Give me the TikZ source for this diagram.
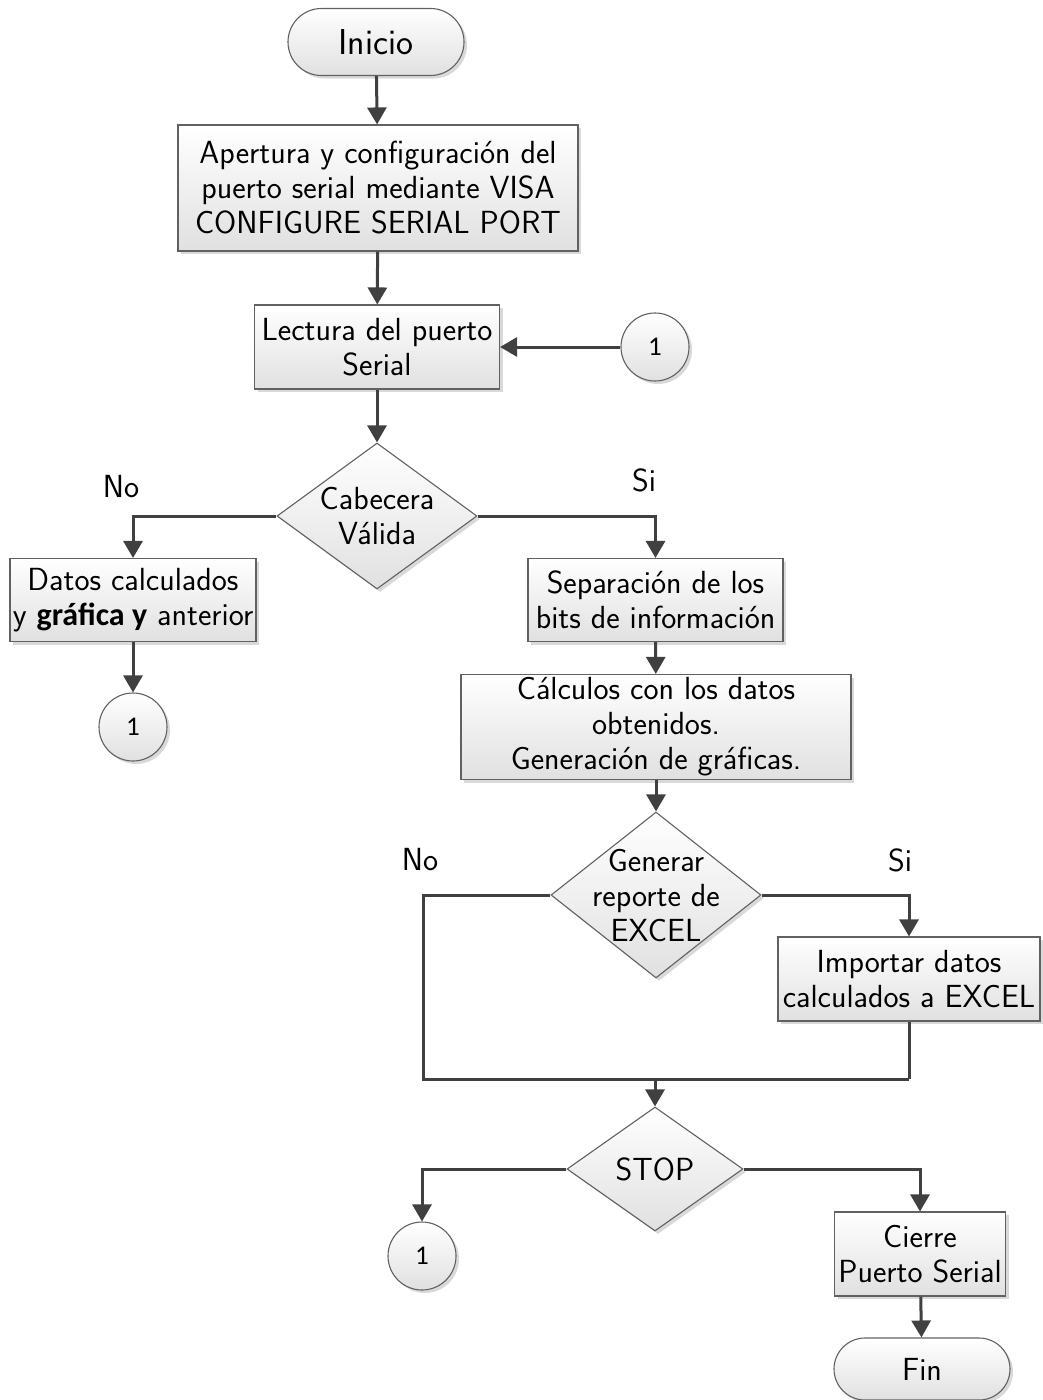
\documentclass[tikz,border=0pt]{standalone}
\usepackage{fontspec}
\newfontfamily\calib{Carlito}
\usetikzlibrary{shapes.geometric,shapes.misc,arrows.meta,shadows}

\tikzset{
  base/.style={draw=black!62, line width=1.1pt, top color=white, bottom color=black!12,
    drop shadow={shadow xshift=3pt, shadow yshift=-3pt, opacity=0.15, fill=black},
    font=\sffamily\fontsize{32}{35}\selectfont, align=center, inner sep=1pt},
  proc/.style={base, rectangle},
  term/.style={base, rounded rectangle},
  dec/.style={base, diamond, inner sep=0pt},
  conn/.style={base, circle, inner sep=0pt, minimum size=68pt,
    font=\calib\fontsize{27}{27}\selectfont},
  dtext/.style={font=\sffamily\fontsize{32}{35}\selectfont, align=center},
  flow/.style={draw=black!75, line width=3pt, -{Triangle[length=17pt,width=19pt]}},
  link/.style={draw=black!75, line width=3pt},
  lbl/.style={font=\sffamily\fontsize{32}{32}\selectfont}
}

\begin{document}
\begin{tikzpicture}[x=1pt, y=-1pt]
  \useasboundingbox (0,0) rectangle (1042,1400);

  % nodes
  \node[term, minimum width=178pt, minimum height=67pt, font=\sffamily\fontsize{36}{36}\selectfont]
    (ini) at (376,42) {Inicio};
  \node[proc, minimum width=400pt, minimum height=126pt] (conf) at (378,188)
    {Apertura y configuración del\\puerto serial mediante VISA\\CONFIGURE SERIAL PORT};
  \node[proc, minimum width=245pt, minimum height=84pt] (lect) at (377,347)
    {Lectura del puerto\\Serial};
  \node[conn] (ca) at (655,347) {1};
  \node[dec, minimum width=200pt, minimum height=146pt,
    label={[dtext]center:Cabecera\\Válida}] (cab) at (377,516) {};
  \node[proc, minimum width=246pt, minimum height=83pt] (prev) at (133,600)
    {Datos calculados\\y {\calib\bfseries gráfica y} anterior};
  \node[conn] (cb) at (133,727) {1};
  \node[proc, minimum width=255pt, minimum height=83pt] (sep) at (655.5,600)
    {Separación de los\\bits de información};
  \node[proc, minimum width=390pt, minimum height=105pt] (calc) at (656,727)
    {Cálculos con los datos\\obtenidos.\\Generación de gráficas.};
  \node[dec, minimum width=210pt, minimum height=166pt,
    label={[dtext]center:Generar\\reporte de\\EXCEL}] (rep) at (656,895) {};
  \node[proc, minimum width=262pt, minimum height=84pt] (imp) at (909,979)
    {Importar datos\\calculados a EXCEL};
  \node[dec, minimum width=176pt, minimum height=124pt,
    label={[dtext]center:STOP}] (stop) at (655,1169) {};
  \node[conn] (cc) at (422,1256) {1};
  \node[proc, minimum width=171pt, minimum height=84pt] (cier) at (920,1254)
    {Cierre\\Puerto Serial};
  \node[term, minimum width=178pt, minimum height=62pt] (fin) at (922,1369) {Fin};

  % branch labels
  \node[lbl] (no1) at (121,487) {No};
  \node[lbl] (si1) at (644,480) {Si};
  \node[lbl] (no2) at (420,860) {No};
  \node[lbl] (si2) at (900,860) {Si};

  % junction points below the EXCEL decision
  \coordinate (jl) at (423,1079);
  \coordinate (jr) at (imp.south |- jl);
  \coordinate (jm) at (stop.north |- jl);

  % connectors
  \draw[flow] (ini) -- (conf);
  \draw[flow] (conf) -- (lect);
  \draw[flow] (ca) -- (lect);
  \draw[flow] (lect) -- (cab);
  \draw[flow] (cab.west) -| (prev.north);
  \draw[flow] (cab.east) -| (sep.north);
  \draw[flow] (prev) -- (cb);
  \draw[flow] (sep) -- (calc);
  \draw[flow] (calc) -- (rep);
  \draw[flow] (rep.east) -| (imp.north);
  \draw[link] (rep.west) -| (jl) -- (jr);
  \draw[link] (imp.south) -- (jr);
  \draw[flow] (jm) -- (stop.north);
  \draw[flow] (stop.west) -| (cc.north);
  \draw[flow] (stop.east) -| (cier.north);
  \draw[flow] (cier) -- (fin);
\end{tikzpicture}
\end{document}
